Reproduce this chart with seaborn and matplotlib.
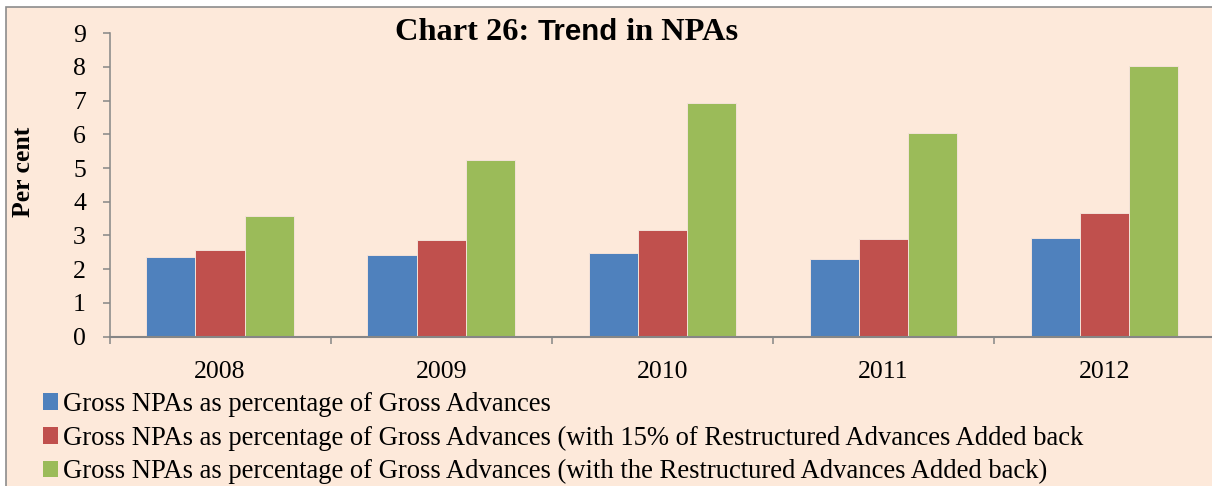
import matplotlib
matplotlib.use("Agg")
import matplotlib.pyplot as plt
from matplotlib.patches import Rectangle, Patch
from matplotlib.ticker import FixedLocator, NullFormatter
import seaborn as sns
import pandas as pd

# ---- data ----
years = ["2008", "2009", "2010", "2011", "2012"]
series_names = [
    "Gross NPAs as percentage of Gross Advances",
    "Gross NPAs as percentage of Gross Advances (with 15% of Restructured Advances Added back",
    "Gross NPAs as percentage of Gross Advances (with the Restructured Advances Added back)",
]
gross_npa = [2.37, 2.43, 2.47, 2.31, 2.93]
with_15pct = [2.56, 2.85, 3.15, 2.88, 3.68]
with_all = [3.59, 5.24, 6.94, 6.04, 8.04]
colors = ["#4F81BD", "#C0504D", "#9BBB59"]
y_ticks = list(range(0, 10))

df = pd.DataFrame({
    "year": years * 3,
    "series": [series_names[0]] * 5 + [series_names[1]] * 5 + [series_names[2]] * 5,
    "value": gross_npa + with_15pct + with_all,
})

sns.set_style("white")
plt.rcParams["font.family"] = ["Liberation Serif", "DejaVu Serif"]
plt.rcParams["text.color"] = "black"
plt.rcParams["axes.labelcolor"] = "black"
plt.rcParams["xtick.color"] = "black"
plt.rcParams["ytick.color"] = "black"

BG = "#FDE9DA"
GRAY = "#868686"
W, H = 1212, 486
fig = plt.figure(figsize=(W / 100, H / 100), dpi=100)
fig.patch.set_facecolor("white")
# chart area background with border (cropped on right/bottom)
fig.add_artist(Rectangle((5.5 / W, -0.05), 1.1, 1 - 7 / H + 0.05,
                         transform=fig.transFigure, facecolor=BG,
                         edgecolor="#8C8C8C", linewidth=1.2, zorder=-10))

left_px, right_px = 109.5, 1215
y0_px, y9_px = 336.5, 33.3
ax = fig.add_axes([left_px / W, 1 - y0_px / H, (right_px - left_px) / W, (y0_px - y9_px) / H])
ax.set_facecolor("none")

sns.barplot(data=df, x="year", y="value", hue="series", hue_order=series_names,
            palette=colors, saturation=1, width=2 / 3, gap=0,
            edgecolor="#F4E2D8", linewidth=0.7, ax=ax, legend=False)

ax.set_xlim(-0.5, 4.5)
ax.set_ylim(0, 9)
ax.set_yticks(y_ticks)
ax.set_yticklabels([str(t) for t in y_ticks], fontsize=18.5)
ax.set_xticks(range(len(years)))
ax.set_xticklabels(years, fontsize=18.5)
ax.xaxis.set_minor_locator(FixedLocator([i - 0.5 for i in range(len(years) + 1)]))
ax.xaxis.set_minor_formatter(NullFormatter())
ax.tick_params(axis="x", which="major", bottom=True, length=0, pad=17.5, labelcolor="black")
ax.tick_params(axis="x", which="minor", bottom=True, length=5, width=1.1, color=GRAY, direction="out")
ax.tick_params(axis="y", which="major", left=True, length=5, width=1.1, color=GRAY,
               direction="out", pad=12, labelcolor="black")

for side in ["top", "right"]:
    ax.spines[side].set_visible(False)
ax.spines["left"].set_color(GRAY)
ax.spines["left"].set_linewidth(1.1)
ax.spines["bottom"].set_color(GRAY)
ax.spines["bottom"].set_linewidth(1.5)

ax.set_xlabel("")
ax.set_ylabel("Per cent", fontsize=18.5, fontweight="bold")
ax.yaxis.set_label_coords((35 - left_px) / (right_px - left_px), (y0_px - 172) / (y0_px - y9_px))

# legend
handles = [Patch(facecolor=c, edgecolor="none") for c in colors]
leg = fig.legend(handles, series_names, loc="upper left",
                 bbox_to_anchor=(42.7 / W, 1 - 392 / H), bbox_transform=fig.transFigure,
                 frameon=False, borderpad=0, borderaxespad=0,
                 handlelength=0.58, handleheight=0.58, handletextpad=0.17,
                 labelspacing=0.32, fontsize=19.2)

# title with mixed fonts
fig.canvas.draw()
renderer = fig.canvas.get_renderer()
x = 395
base_y = 1 - 40.5 / H
parts = [("Chart 26: ", ["Liberation Serif"], 23.3),
         ("Trend", ["Liberation Sans"], 21.2),
         (" in NPAs", ["Liberation Serif"], 23.3)]
for txt, fam, fs in parts:
    t = fig.text(x / W, base_y, txt, fontsize=fs, fontweight="bold", family=fam,
                 va="baseline", ha="left", color="black")
    bb = t.get_window_extent(renderer=renderer)
    x = bb.x1

fig.savefig("out.png", dpi=100, facecolor=fig.get_facecolor())
